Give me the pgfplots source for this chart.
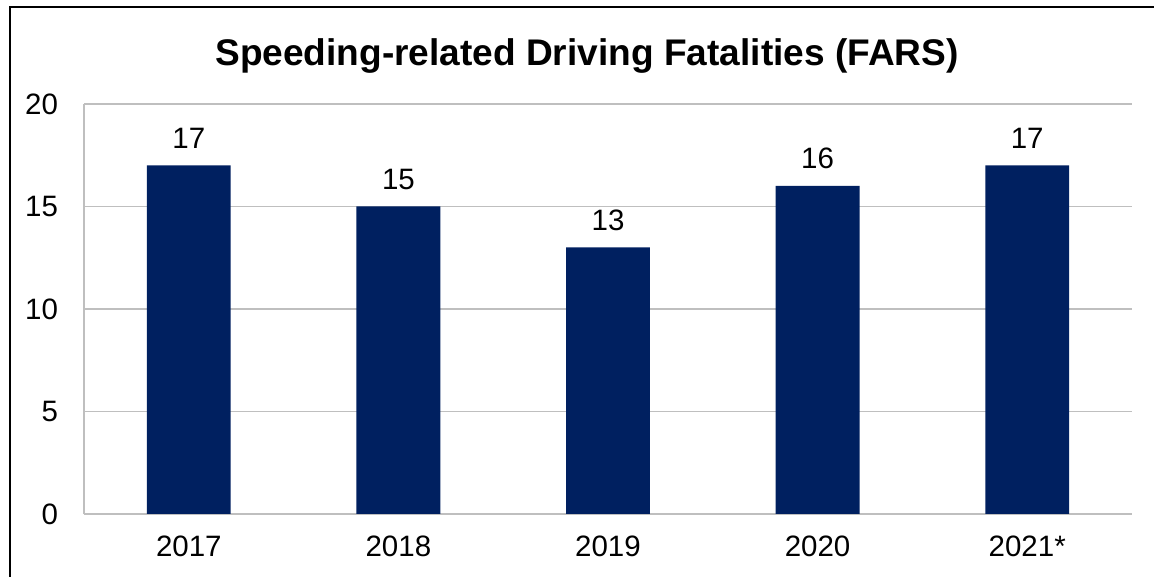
\documentclass[border=0pt]{standalone}
\usepackage{pgfplots}
\pgfplotsset{compat=1.18}
\usepackage{fontspec}
\setmainfont{Liberation Sans}
\definecolor{barblue}{HTML}{002060}
\definecolor{gridgray}{HTML}{BFBFBF}
\begin{document}
\begin{tikzpicture}
\useasboundingbox (0,0) rectangle (577bp,288.5bp);
\fill[white] (0,0) rectangle (577bp,288.5bp);
\draw[black, line width=1.1bp] (5bp,0) -- (5bp,285bp) -- (577bp,285bp);
\node[font=\fontsize{18.6}{22}\selectfont\bfseries] at (293.5bp,260.5bp) {Speeding-related Driving Fatalities (FARS)};
\begin{axis}[
  at={(42bp,31.5bp)}, anchor=south west,
  scale only axis, width=524bp, height=205bp,
  xmin=-0.5, xmax=4.5, ymin=0, ymax=20,
  ytick={0,5,10,15,20},
  xtick={0,1,2,3,4},
  xticklabels={2017,2018,2019,2020,2021*},
  major tick length=0pt,
  axis line style={gridgray, line width=0.75bp},
  axis x line*=bottom, axis y line*=left,
  ymajorgrids, grid style={gridgray, line width=0.75bp},
  tick label style={font=\fontsize{14.8}{17}\selectfont},
  /pgf/number format/assume math mode=true,
  yticklabel style={xshift=-9.5bp},
  xticklabel style={yshift=-7.5bp},
  ybar, bar width=0.4,
  nodes near coords,
  nodes near coords style={font=\fontsize{14.8}{17}\selectfont, yshift=5bp},
]
\addplot[fill=barblue, draw=none] coordinates {(0,17) (1,15) (2,13) (3,16) (4,17)};
\end{axis}
\end{tikzpicture}
\end{document}
